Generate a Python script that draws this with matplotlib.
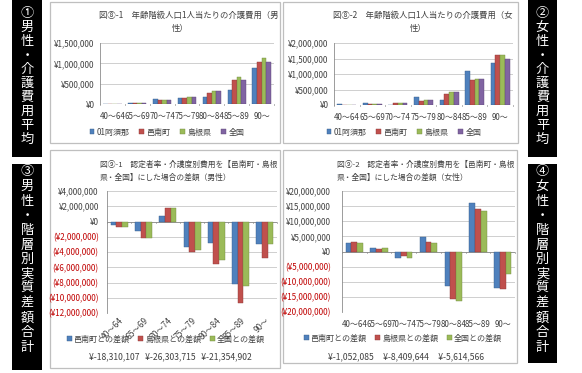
import matplotlib
matplotlib.use("Agg")
import matplotlib.pyplot as plt
import numpy as np
from matplotlib.patches import Rectangle
from matplotlib.ticker import FuncFormatter

plt.rcParams['font.family'] = ['Noto Sans CJK JP', 'DejaVu Sans']

# ---------------- data ----------------
age_groups = ["40～64", "65～69", "70～74", "75～79", "80～84", "85～89", "90～"]

cost_series = ["01阿須那", "邑南町", "島根県", "全国"]
male_cost = {
    "01阿須那": [5000, 20000, 120000, 150000, 180000, 345000, 880000],
    "邑南町":   [5000, 28000, 108000, 155000, 262000, 590000, 1035000],
    "島根県":   [5000, 33000, 88000, 175000, 330000, 660000, 1125000],
    "全国":     [5000, 30000, 88000, 165000, 322000, 592000, 1028000],
}
female_cost = {
    "01阿須那": [30000, 55000, 10000, 260000, 165000, 1100000, 1340000],
    "邑南町":   [8000, 30000, 72000, 130000, 360000, 795000, 1610000],
    "島根県":   [8000, 30000, 62000, 165000, 425000, 838000, 1600000],
    "全国":     [8000, 30000, 62000, 175000, 425000, 838000, 1490000],
}

diff_series = ["邑南町との差額", "島根県との差額", "全国との差額"]
male_diff = {
    "邑南町との差額": [-500000, -1300000, 750000, -3300000, -2800000, -8200000, -2960000],
    "島根県との差額": [-750000, -2150000, 1750000, -4050000, -5600000, -10700000, -4800000],
    "全国との差額":   [-700000, -2150000, 1750000, -3700000, -5100000, -8500000, -2950000],
}
female_diff = {
    "邑南町との差額": [2850000, 1100000, -2200000, 4900000, -11500000, 15900000, -12100000],
    "島根県との差額": [3100000, 900000, -1400000, 3100000, -15800000, 14100000, -12400000],
    "全国との差額":   [2800000, 1100000, -2000000, 2900000, -16300000, 13500000, -7600000],
}
male_totals = ["¥-18,310,107", "¥-26,303,715", "¥-21,354,902"]
female_totals = ["¥-1,052,085", "¥-8,409,644", "¥-5,614,566"]

titles = [
    ("図⑧-1　年齢階級人口1人当たりの介護費用（男", "性）"),
    ("図⑧-2　年齢階級人口1人当たりの介護費用（女", "性）"),
    ("図⑨-1　認定者率・介護度別費用を【邑南町・島根", "県・全国】にした場合の差額（男性）"),
    ("図⑨-2　認定者率・介護度別費用を【邑南町・島根", "県・全国】にした場合の差額（女性）"),
]
side_labels = ["①男性・介護費用平均", "②女性・介護費用平均",
               "③男性・階層別実質差額合計", "④女性・階層別実質差額合計"]

# ---------------- style ----------------
colors4 = ["#4F81BD", "#C0504D", "#9BBB59", "#8064A2"]
edge4 = ["#385D8A", "#8C3836", "#71893F", "#5C4776"]
W, H = 582, 373
fig = plt.figure(figsize=(W / 100, H / 100), dpi=100)
fig.patch.set_facecolor("white")

TXT = "#404040"
NEG = "#C00000"
TICK_FS = 5.8
XT_FS = 5.75


def fx(x):
    return x / W


def fy(y):
    return 1 - y / H


def px_axes(x0, y0, x1, y1):
    return fig.add_axes([fx(x0), fy(y1), (x1 - x0) / W, (y1 - y0) / H])


def frame(x0, y0, x1, y1):
    fig.patches.append(Rectangle((fx(x0), fy(y1)), (x1 - x0) / W, (y1 - y0) / H,
                                 transform=fig.transFigure, facecolor="white",
                                 edgecolor="#BFBFBF", lw=0.9, zorder=-5))


def yen_fmt(v, pos=None):
    if v < 0:
        return "(¥{:,.0f})".format(-v)
    return "¥{:,.0f}".format(v)


def style_axes(ax, ymin, ymax, step, rotate=False, label_y_pad=4):
    ax.set_facecolor("none")
    ax.set_xlim(-0.5, len(age_groups) - 0.5)
    ax.set_ylim(ymin, ymax)
    ticks = np.arange(ymin, ymax + step / 2, step)
    ax.set_yticks(ticks)
    ax.yaxis.set_major_formatter(FuncFormatter(yen_fmt))
    ax.grid(axis="y", color="#C8C8C8", lw=0.6)
    ax.set_axisbelow(True)
    for s in ["top", "right", "bottom"]:
        ax.spines[s].set_visible(False)
    ax.spines["left"].set_color("#8C8C8C")
    ax.spines["left"].set_linewidth(0.6)
    ax.tick_params(axis="y", length=0, pad=label_y_pad, labelsize=TICK_FS, labelcolor=TXT)
    ax.set_xticks(range(len(age_groups)))
    if rotate:
        ax.set_xticklabels(age_groups, rotation=45, ha="right", va="top",
                           rotation_mode="anchor", fontsize=6.0, color=TXT)
        ax.tick_params(axis="x", length=0, pad=2)
    else:
        ax.set_xticklabels(age_groups, fontsize=XT_FS, color=TXT)
        ax.tick_params(axis="x", length=0, pad=6)
    for lab, t in zip(ax.get_yticklabels(), ticks):
        if t < 0:
            lab.set_color(NEG)
    ax.axhline(0, color="#8C8C8C", lw=0.6, zorder=1)
    for b in np.arange(-0.5, len(age_groups) + 0.5, 1):
        ax.plot([b, b], [0, -(ymax - ymin) * 0.015], color="#8C8C8C", lw=0.5,
                clip_on=False, zorder=1)


def draw_bars(ax, data, names, total_width):
    n = len(names)
    w = total_width / n
    x = np.arange(len(age_groups))
    handles = []
    for i, name in enumerate(names):
        h = ax.bar(x - total_width / 2 + w * (i + 0.5), data[name], w,
                   color=colors4[i], edgecolor=edge4[i], lw=0.3, zorder=2,
                   label=name)
        handles.append(h)
    return handles


def legend(handles, labels, xc, yc, ncol, colsp):
    fig.legend(handles=handles, labels=labels, loc="center",
               bbox_to_anchor=(fx(xc), fy(yc)), ncol=ncol, frameon=False,
               fontsize=TICK_FS, handlelength=0.6, handleheight=0.6,
               handletextpad=0.3, columnspacing=colsp, labelcolor=TXT)


# ---------------- panel frames ----------------
frame(50, 2, 280, 143)
frame(283, 2, 518, 143)
frame(50, 150, 280, 368)
frame(283, 150, 517, 363)

# ---------------- panel 1 ----------------
ax1 = px_axes(100, 43, 274, 104)
style_axes(ax1, 0, 1500000, 500000)
h1 = draw_bars(ax1, male_cost, cost_series, 0.74)
legend(h1, cost_series, 167, 132, 4, 1.2)

# ---------------- panel 2 ----------------
ax2 = px_axes(334, 43, 513, 105)
style_axes(ax2, 0, 2000000, 500000)
h2 = draw_bars(ax2, female_cost, cost_series, 0.74)
legend(h2, cost_series, 404, 132, 4, 1.2)

# ---------------- panel 3 ----------------
ax3 = px_axes(107, 191, 277, 313)
style_axes(ax3, -12000000, 4000000, 2000000, rotate=True, label_y_pad=6)
h3 = draw_bars(ax3, male_diff, diff_series, 0.7)
legend(h3, diff_series, 166, 339, 3, 1.0)
fig.text(fx(170), fy(357), "   ".join(male_totals), ha="center", va="center",
         fontsize=6.2, color=TXT)

# ---------------- panel 4 ----------------
ax4 = px_axes(342, 191, 515, 312)
style_axes(ax4, -20000000, 20000000, 5000000, label_y_pad=8)
h4 = draw_bars(ax4, female_diff, diff_series, 0.7)
legend(h4, diff_series, 403, 338, 3, 1.0)
fig.text(fx(406), fy(357), "     ".join(female_totals), ha="center", va="center",
         fontsize=6.2, color=TXT)

# ---------------- titles ----------------
fig.text(fx(189), fy(15), titles[0][0], ha="center", va="center", fontsize=6, color=TXT)
fig.text(fx(180), fy(28), titles[0][1], ha="center", va="center", fontsize=6, color=TXT)
fig.text(fx(423), fy(15), titles[1][0], ha="center", va="center", fontsize=6, color=TXT)
fig.text(fx(418), fy(28), titles[1][1], ha="center", va="center", fontsize=6, color=TXT)
fig.text(fx(100), fy(165), titles[2][0], ha="left", va="center", fontsize=5.6, color=TXT)
fig.text(fx(100), fy(178), titles[2][1], ha="left", va="center", fontsize=5.6, color=TXT)
fig.text(fx(337), fy(165), titles[3][0], ha="left", va="center", fontsize=5.6, color=TXT)
fig.text(fx(337), fy(178), titles[3][1], ha="left", va="center", fontsize=5.6, color=TXT)

# ---------------- side label boxes ----------------
boxes = [(12, 0, 42, 157, 13, 14.1),
         (528, 0, 557, 157, 13, 14.1),
         (12, 164, 42, 370, 172, 14.6),
         (528, 164, 557, 363, 172, 14.6)]
for (x0, y0, x1, y1, ystart, step), label in zip(boxes, side_labels):
    fig.patches.append(Rectangle((fx(x0), fy(y1)), (x1 - x0) / W, (y1 - y0) / H,
                                 transform=fig.transFigure, facecolor="black",
                                 edgecolor="none", zorder=-5))
    xc = (x0 + x1) / 2
    for k, ch in enumerate(label):
        fig.text(fx(xc), fy(ystart + k * step), ch, ha="center", va="center",
                 fontsize=9.5, color="white")

fig.savefig("out.png", dpi=100)
